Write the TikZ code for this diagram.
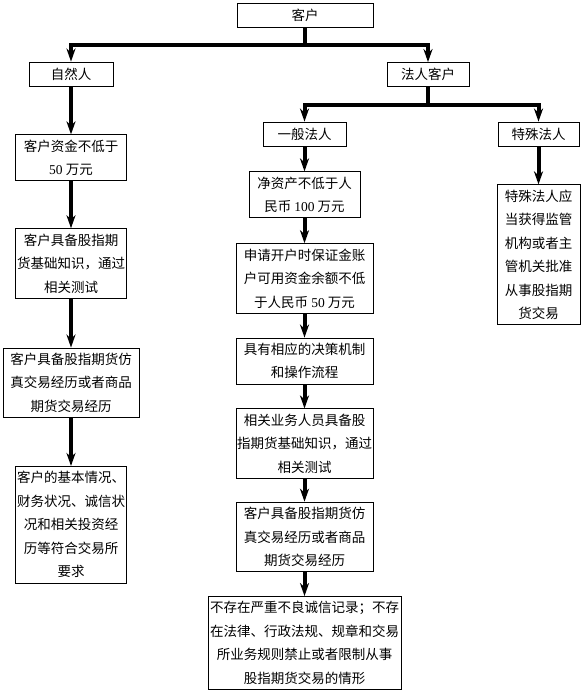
\documentclass[tikz,border=0pt]{standalone}
\usepackage{fontspec}
\setmainfont{Liberation Serif}
\newfontfamily\cjk{Noto Sans CJK SC}
\usepackage{tikz}
\usetikzlibrary{arrows.meta,positioning}

\begin{document}
\begin{tikzpicture}[
  x=1pt, y=1pt,
  box/.style={rectangle, draw=black, line width=0.8pt, fill=white,
              align=center, inner xsep=1pt, inner ysep=5pt,
              minimum height=24pt, font=\fontsize{13.5}{23.5}\selectfont\cjk},
  arr/.style={-{Stealth[length=13pt,width=9pt,inset=4pt]}, line width=4pt}
]
  \useasboundingbox (0,0) rectangle (583,-698);

  \node[box, minimum width=136pt] (kehu) at (305,-15) {客户};
  \node[box, minimum width=84pt] (ziran) at (71,-74) {自然人};
  \node[box, minimum width=82pt] (faren) at (428,-74.5) {法人客户};
  \node[box, minimum width=83pt] (yiban) at (304.5,-134) {一般法人};
  \node[box, minimum width=81pt] (teshu) at (538.5,-134) {特殊法人};

  % natural person
  \node[box, minimum width=111pt, below=48pt of ziran] (zr1)
    {客户资金不低于\\{\rmfamily 50} 万元};
  \node[box, minimum width=111pt, below=47pt of zr1] (zr2)
    {客户具备股指期\\货基础知识，通过\\相关测试};
  \node[box, minimum width=136pt, below=49pt of zr2] (zr3)
    {客户具备股指期货仿\\真交易经历或者商品\\期货交易经历};
  \node[box, minimum width=111pt, below=48pt of zr3] (zr4)
    {客户的基本情况、\\财务状况、诚信状\\况和相关投资经\\历等符合交易所\\要求};

  % general legal person
  \node[box, minimum width=111pt, below=25pt of yiban] (yb1)
    {净资产不低于人\\民币 {\rmfamily 100} 万元};
  \node[box, minimum width=137pt, below=25pt of yb1] (yb2)
    {申请开户时保证金账\\户可用资金余额不低\\于人民币 {\rmfamily 50} 万元};
  \node[box, minimum width=137pt, below=24pt of yb2] (yb3)
    {具有相应的决策机制\\和操作流程};
  \node[box, minimum width=137pt, below=24pt of yb3] (yb4)
    {相关业务人员具备股\\指期货基础知识，通过\\相关测试};
  \node[box, minimum width=137pt, below=23pt of yb4] (yb5)
    {客户具备股指期货仿\\真交易经历或者商品\\期货交易经历};
  \node[box, minimum width=193pt, below=24pt of yb5] (yb6)
    {不存在严重不良诚信记录；不存\\在法律、行政法规、规章和交易\\所业务规则禁止或者限制从事\\股指期货交易的情形};

  % special legal person
  \node[box, minimum width=83pt, below=38pt of teshu] (ts1)
    {特殊法人应\\当获得监管\\机构或者主\\管机关批准\\从事股指期\\货交易};

  \draw[arr] (kehu.south) -- ++(0,-18) -| (ziran.north);
  \draw[arr] (kehu.south) -- ++(0,-18) -| (faren.north);
  \draw[arr] (faren.south) -- ++(0,-18) -| (yiban.north);
  \draw[arr] (faren.south) -- ++(0,-18) -| (teshu.north);

  \draw[arr] (ziran)--(zr1); \draw[arr] (zr1)--(zr2);
  \draw[arr] (zr2)--(zr3); \draw[arr] (zr3)--(zr4);
  \draw[arr] (yiban)--(yb1); \draw[arr] (yb1)--(yb2);
  \draw[arr] (yb2)--(yb3); \draw[arr] (yb3)--(yb4);
  \draw[arr] (yb4)--(yb5); \draw[arr] (yb5)--(yb6);
  \draw[arr] (teshu)--(ts1);
\end{tikzpicture}
\end{document}
